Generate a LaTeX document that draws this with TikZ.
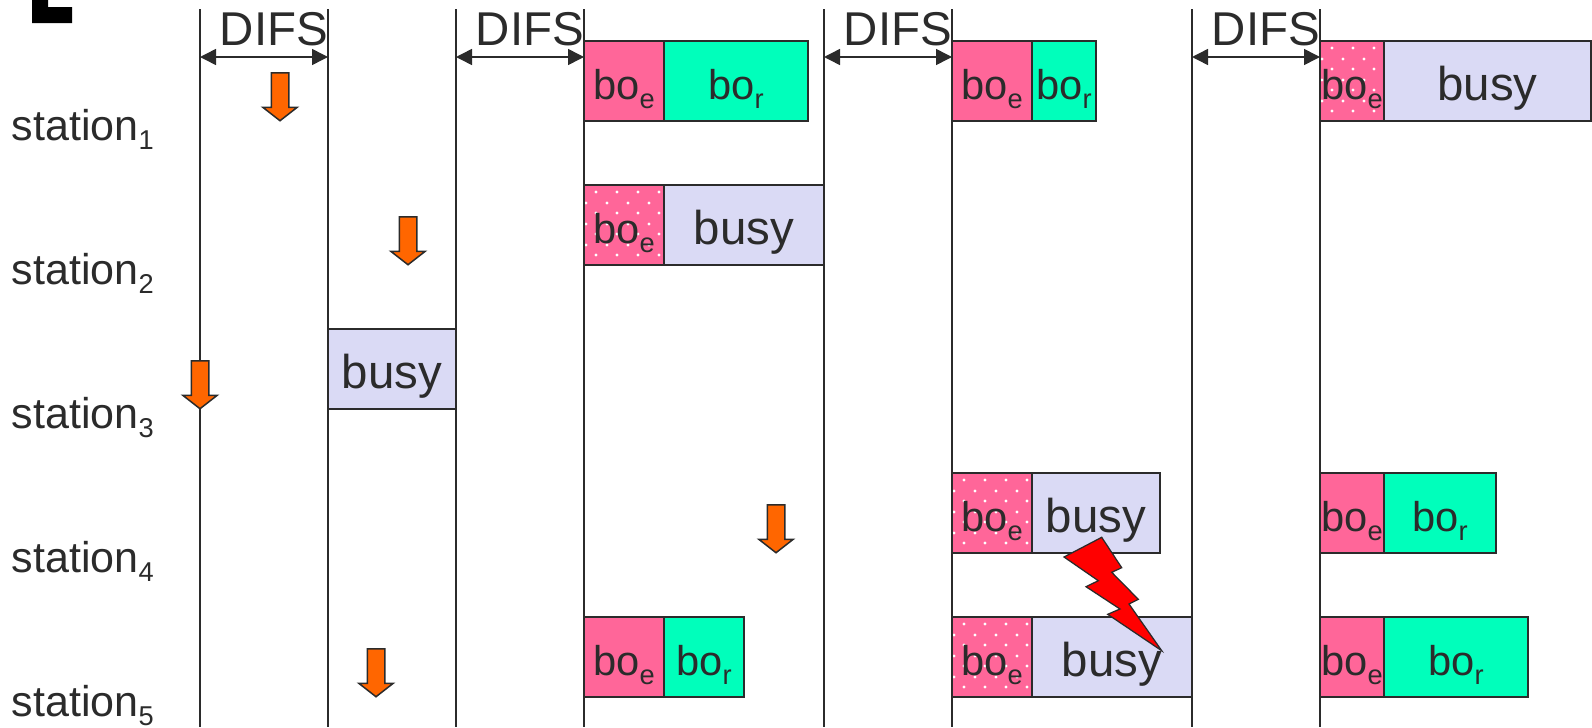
\documentclass[tikz,border=0pt]{standalone}
\usepackage{fontspec}
\setmainfont{Liberation Sans}
\usetikzlibrary{arrows.meta,shapes.arrows}
\definecolor{ink}{HTML}{2B2B2B}
\definecolor{boepink}{HTML}{FF6699}
\definecolor{borgreen}{HTML}{00FFBB}
\definecolor{busyblue}{HTML}{DADAF5}
\definecolor{slotorange}{HTML}{FF6600}
\newcommand{\low}[1]{\raisebox{-.2em}{\fontsize{15.5}{15.5}\selectfont #1}}
\tikzset{
  cell/.style={draw=ink, line width=.04cm, rectangle, anchor=north west, inner sep=0pt, outer sep=0pt,
    minimum height=1.6cm, text height=1.18cm, text depth=.42cm, text=ink},
  boe/.style={cell, fill=boepink, minimum width=#1, font=\fontsize{23.7}{23.7}\selectfont},
  boedots/.style={boe=#1, path picture={
    \foreach \r in {7,28,49,70} \foreach \c in {12,33,54,75}
      \fill[white] ([xshift=\c*.02cm,yshift=-\r*.02cm]path picture bounding box.north west) circle[radius=.034cm];
    \foreach \r in {18,39,60} \foreach \c in {2,23,44,65}
      \fill[white] ([xshift=\c*.02cm,yshift=-\r*.02cm]path picture bounding box.north west) circle[radius=.034cm];
  }},
  bor/.style={cell, fill=borgreen, minimum width=#1, font=\fontsize{23.7}{23.7}\selectfont},
  busy/.style={cell, fill=busyblue, minimum width=#1, text height=1.2cm, text depth=.4cm, font=\fontsize{27}{27}\selectfont},
  slot/.style={draw=ink, line width=.03cm, fill=slotorange, single arrow, rotate=-90, anchor=tail, inner xsep=0pt, inner ysep=.16cm,
    minimum height=.96cm, single arrow head extend=.17cm, single arrow tip angle=104},
  station/.style={anchor=base west, inner sep=0pt, text=ink, font=\fontsize{24.5}{24.5}\selectfont},
  difs/.style={anchor=base, inner sep=0pt, text=ink, font=\fontsize{27}{27}\selectfont},
  difsline/.style={draw=ink, line width=.03cm, {Triangle[length=.32cm,width=.32cm]}-{Triangle[length=.32cm,width=.32cm]}},
  timeline/.style={draw=ink, line width=.04cm}
}
\begin{document}
\begin{tikzpicture}[x=.02cm,y=-.02cm]
  \useasboundingbox (0,0) rectangle (1592,727);

  % top and bottom of the time lines
  \coordinate (t1) at (200,9);  \coordinate (b1) at (200,727);
  \coordinate (t2) at (328,9);  \coordinate (b2) at (328,727);
  \coordinate (t3) at (456,9);  \coordinate (b3) at (456,727);
  \coordinate (t4) at (584,9);  \coordinate (b4) at (584,727);
  \coordinate (t5) at (824,9);  \coordinate (b5) at (824,727);
  \coordinate (t6) at (952,9);  \coordinate (b6) at (952,727);
  \coordinate (t7) at (1192,9); \coordinate (b7) at (1192,727);
  \coordinate (t8) at (1320,9); \coordinate (b8) at (1320,727);
  \coordinate (difsrow) at (0,57);

  \fill[black] (32,0) -- (48,0) -- (48,7) -- (72,7) -- (72,23) -- (32,23) -- cycle;

  \draw[timeline] (t1) -- (b1);
  \draw[timeline] (t2) -- (b2);
  \draw[timeline] (t3) -- (b3);
  \draw[timeline] (t4) -- (b4);
  \draw[timeline] (t5) -- (b5);
  \draw[timeline] (t6) -- (b6);
  \draw[timeline] (t7) -- (b7);
  \draw[timeline] (t8) -- (b8);

  \node[station] (s1) at (11.5,140.5) {station\low{1}};
  \node[station] (s2) at (11.5,284.5) {station\low{2}};
  \node[station] (s3) at (11.5,428.5) {station\low{3}};
  \node[station] (s4) at (11.5,572.5) {station\low{4}};
  \node[station] (s5) at (11.5,716.5) {station\low{5}};

  \node[difs] (d1) at (274,45) {DIFS};
  \node[difs] (d2) at (530,45) {DIFS};
  \node[difs] (d3) at (898,45) {DIFS};
  \node[difs] (d4) at (1266,45) {DIFS};
  \draw[difsline] (t1 |- difsrow) -- (t2 |- difsrow);
  \draw[difsline] (t3 |- difsrow) -- (t4 |- difsrow);
  \draw[difsline] (t5 |- difsrow) -- (t6 |- difsrow);
  \draw[difsline] (t7 |- difsrow) -- (t8 |- difsrow);

  % station 1
  \node[boe=1.6cm] (e1a) at (584,41) {bo\low{e}};
  \node[bor=2.88cm] (r1a) at (e1a.north east) {bo\low{r}};
  \node[boe=1.6cm] (e1b) at (952,41) {bo\low{e}};
  \node[bor=1.28cm] (r1b) at (e1b.north east) {bo\low{r}};
  \node[boedots=1.28cm] (e1c) at (1320,41) {bo\low{e}};
  \node[busy=4.14cm] (u1c) at (e1c.north east) {busy};

  % station 2
  \node[boedots=1.6cm] (e2a) at (584,185) {bo\low{e}};
  \node[busy=3.2cm] (u2a) at (e2a.north east) {busy};

  % station 3
  \node[busy=2.56cm] (u3a) at (328,329) {busy};

  % station 4
  \node[boedots=1.6cm] (e4b) at (952,473) {bo\low{e}};
  \node[busy=2.56cm] (u4b) at (e4b.north east) {busy};
  \node[boe=1.28cm] (e4c) at (1320,473) {bo\low{e}};
  \node[bor=2.24cm] (r4c) at (e4c.north east) {bo\low{r}};

  % station 5
  \node[boe=1.6cm] (e5a) at (584,617) {bo\low{e}};
  \node[bor=1.6cm] (r5a) at (e5a.north east) {bo\low{r}};
  \node[boedots=1.6cm] (e5b) at (952,617) {bo\low{e}};
  \node[busy=3.2cm] (u5b) at (e5b.north east) {busy};
  \node[boe=1.28cm] (e5c) at (1320,617) {bo\low{e}};
  \node[bor=2.88cm] (r5c) at (e5c.north east) {bo\low{r}};

  % slot arrows
  \node[slot] (a1) at (280,72) {};
  \node[slot] (a2) at (408,216) {};
  \node[slot] (a3) at (200,360) {};
  \node[slot] (a4) at (776,504) {};
  \node[slot] (a5) at (376,648) {};

  % collision
  \draw[draw=ink, line width=.025cm, fill=red, line join=miter]
    (1101.7,537.3) -- (1121.7,567.7) -- (1111.7,572.3) -- (1138.3,599.3) -- (1129,604)
    -- (1161.7,650.7) -- (1107.7,614.3) -- (1120,609) -- (1086,586.7) -- (1098.3,580.7)
    -- (1064,557) -- cycle;
\end{tikzpicture}
\end{document}
